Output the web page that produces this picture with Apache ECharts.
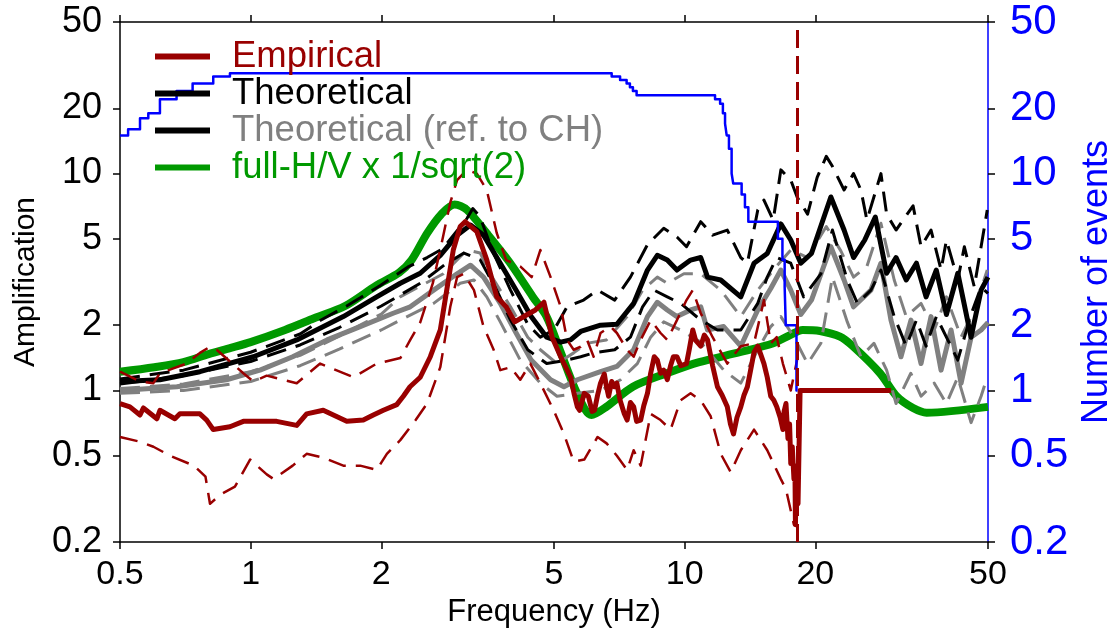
<!DOCTYPE html>
<html>
<head>
<meta charset="utf-8">
<script src="https://cdn.jsdelivr.net/npm/echarts@6/dist/echarts.min.js"></script>
<style>html,body{margin:0;padding:0;background:#fff}#c{width:1116px;height:639px}</style>
</head>
<body>
<div id="c"></div>
<script>
// ---- tick labels ----
const xTicks = [0.5, 1, 2, 5, 10, 20, 50];
const yTicks = [0.2, 0.5, 1, 2, 5, 10, 20, 50];
const cutoffFreq = 18.4;

// ---- series values: [frequency (Hz), value] ----
const empiricalMean = [[0.5,0.87],[0.527,0.84],[0.556,0.77],[0.566,0.83],[0.608,0.74],[0.618,0.81],[0.669,0.74],[0.687,0.78],[0.764,0.78],[0.792,0.73],[0.82,0.66],[0.896,0.68],[0.962,0.72],[1.148,0.72],[1.277,0.69],[1.346,0.78],[1.47,0.81],[1.665,0.72],[1.818,0.73],[1.917,0.77],[2.022,0.81],[2.171,0.86],[2.248,0.94],[2.329,1.04],[2.459,1.15],[2.594,1.43],[2.735,1.9],[2.83,2.9],[2.93,4.44],[3.04,5.7],[3.12,6.0],[3.32,5.4],[3.5,4.0],[3.69,2.7],[3.88,2.43],[4.06,2.07],[4.34,2.24],[4.53,2.35],[4.74,2.55],[4.95,1.76],[5.18,1.43],[5.46,1.15],[5.56,0.97],[5.66,0.84],[5.73,0.81],[5.87,0.97],[6.0,0.94],[6.12,0.8],[6.2,0.81],[6.3,0.95],[6.4,1.08],[6.53,1.19],[6.6,1.05],[6.68,0.94],[6.79,1.1],[6.89,1.04],[6.98,1.08],[7.1,0.9],[7.26,0.78],[7.37,0.73],[7.5,0.88],[7.63,0.84],[7.75,0.72],[7.92,0.73],[8.05,0.85],[8.21,0.97],[8.35,1.2],[8.51,1.43],[8.65,1.38],[8.8,1.2],[8.95,1.24],[9.12,1.12],[9.28,1.3],[9.42,1.43],[9.6,1.43],[9.8,1.3],[10.1,1.33],[10.25,1.55],[10.44,1.9],[10.6,1.7],[10.89,1.6],[11.1,1.8],[11.29,1.71],[11.6,1.3],[11.9,1.04],[12.2,0.95],[12.54,0.84],[12.75,0.7],[12.96,0.63],[13.2,0.75],[13.47,0.84],[13.7,0.95],[13.95,1.04],[14.2,1.25],[14.45,1.5],[14.74,1.6],[15.0,1.45],[15.23,1.33],[15.5,1.15],[15.79,0.94],[16.05,0.9],[16.3,0.84],[16.6,0.75],[16.84,0.66],[16.95,0.8],[17.12,0.87],[17.3,0.6],[17.45,0.7],[17.56,0.46],[17.7,0.55],[17.86,0.39],[17.95,0.45],[18.0,0.24],[18.08,0.4],[18.16,0.35],[18.25,0.3],[18.45,1.0],[29.9,1.0]];
const empiricalUpper = [[0.5,1.22],[0.556,1.1],[0.597,1.08],[0.618,1.2],[0.712,1.33],[0.764,1.49],[0.806,1.59],[0.835,1.54],[0.962,1.2],[1.014,1.1],[1.089,1.17],[1.277,1.08],[1.446,1.33],[1.725,1.15],[1.952,1.33],[2.212,1.41],[2.332,1.71],[2.459,2.06],[2.63,3.13],[2.775,5.11],[2.884,7.35],[2.99,9.33],[3.15,10.4],[3.32,10.0],[3.5,8.4],[3.69,5.32],[3.88,3.99],[4.18,3.73],[4.44,3.33],[4.65,4.44],[4.91,3.33],[5.18,2.43],[5.36,1.71],[5.55,1.54],[5.76,1.59],[5.96,1.71],[6.17,1.43],[6.4,1.84],[6.75,1.97],[6.98,1.84],[7.37,1.54],[7.63,1.43],[7.92,1.71],[8.35,2.11],[8.8,1.84],[9.12,1.71],[9.6,2.11],[10.1,2.61],[10.44,2.9],[10.89,2.27],[11.6,1.76],[12.54,1.33],[13.47,1.6],[14.45,1.65],[15.23,2.61],[15.79,1.65],[16.3,1.76],[16.84,1.33],[17.56,1.0],[18.16,1.38]];
const empiricalLower = [[0.5,0.61],[0.556,0.58],[0.597,0.55],[0.652,0.5],[0.74,0.45],[0.787,0.4],[0.806,0.3],[0.85,0.33],[0.92,0.36],[0.997,0.48],[1.089,0.41],[1.13,0.39],[1.25,0.45],[1.346,0.51],[1.47,0.49],[1.635,0.45],[1.788,0.45],[1.952,0.43],[2.06,0.51],[2.212,0.59],[2.4,0.73],[2.55,0.87],[2.735,1.28],[2.884,2.43],[2.99,3.33],[3.1,3.45],[3.27,2.9],[3.44,1.97],[3.63,1.54],[3.76,1.24],[3.97,1.28],[4.18,1.12],[4.41,1.33],[4.65,1.08],[4.99,0.81],[5.27,0.63],[5.55,0.47],[5.87,0.48],[6.3,0.61],[6.61,0.57],[6.98,0.5],[7.37,0.43],[7.63,0.53],[7.92,0.45],[8.35,0.78],[8.8,0.73],[9.28,0.66],[9.79,0.9],[10.32,0.97],[10.89,0.9],[11.48,0.76],[12.11,0.51],[12.77,0.42],[13.47,0.53],[14.45,0.66],[15.5,0.53],[16.66,0.39],[17.12,0.35],[17.86,0.24],[18.16,0.25]];
const theoretical = [[0.5,1.1],[0.618,1.12],[0.764,1.22],[1.014,1.43],[1.277,1.71],[1.635,2.19],[1.952,2.7],[2.212,3.12],[2.459,3.47],[2.735,4.2],[2.99,5.2],[3.21,5.79],[3.44,5.2],[3.76,3.86],[4.09,2.9],[4.43,2.19],[4.81,1.76],[5.18,1.67],[5.46,1.71],[5.76,1.87],[6.4,2.0],[6.98,2.02],[7.63,2.52],[8.21,3.59],[8.65,4.2],[9.12,3.99],[9.6,3.59],[10.32,3.99],[10.89,4.1],[11.29,3.33],[12.11,3.23],[13.47,2.7],[14.45,3.86],[15.5,4.28],[16.66,5.86],[17.56,4.94],[18.52,3.86],[19.6,4.28],[21.72,7.8],[23.3,5.49],[24.5,4.1],[26.0,4.94],[27.5,6.3],[29.2,3.47],[30.7,4.1],[32.4,3.23],[34.2,3.86],[36.0,2.7],[38.0,3.59],[40.1,2.24],[42.6,3.47],[45.7,1.76],[48.2,2.9],[50,3.33]];
const theoreticalUpper = [[0.5,1.13],[0.7,1.24],[1.0,1.5],[1.3,1.82],[1.446,2.1],[1.665,2.45],[1.99,3.05],[2.3,3.7],[2.55,4.1],[2.77,4.5],[3.0,5.5],[3.15,6.2],[3.25,6.9],[3.38,6.3],[3.6,4.44],[3.97,2.9],[4.35,2.02],[4.65,1.76],[5.0,1.9],[5.36,2.43],[5.85,2.61],[6.3,2.9],[6.9,2.61],[7.5,3.33],[8.21,4.7],[8.95,5.6],[9.6,5.1],[10.1,4.6],[10.89,6.0],[11.6,5.2],[12.54,5.49],[13.47,4.1],[13.95,3.86],[14.74,6.79],[15.23,7.55],[16.0,6.1],[16.66,10.4],[17.56,9.33],[18.16,7.8],[19.2,6.5],[20.2,9.6],[21.2,12.0],[21.9,10.8],[23.3,8.4],[24.5,10.0],[25.48,8.4],[26.3,6.1],[28.33,10.0],[29.2,6.5],[30.7,5.49],[33.6,7.1],[35.05,4.6],[36.96,5.49],[38.98,3.59],[40.1,4.94],[42.6,3.23],[44.1,4.6],[46.5,3.0],[49.8,6.79]];
const theoreticalLower = [[0.5,1.07],[0.7,1.17],[1.0,1.36],[1.3,1.62],[1.6,1.95],[2.0,2.45],[2.46,3.12],[2.8,3.8],[3.1,4.3],[3.38,4.0],[3.69,2.9],[3.97,2.11],[4.35,1.54],[4.81,1.33],[5.36,1.38],[5.76,1.43],[6.17,1.49],[6.9,1.54],[7.5,1.76],[8.0,2.43],[8.5,2.9],[9.12,2.7],[9.79,2.52],[10.89,2.11],[11.9,1.9],[13.47,1.9],[14.74,2.52],[15.5,3.33],[16.3,4.1],[17.56,3.86],[18.8,2.7],[20.6,3.45],[21.9,5.49],[23.7,3.23],[25.0,2.52],[26.87,2.9],[28.33,3.59],[30.4,2.19],[32.4,1.6],[34.2,2.11],[36.0,1.6],[38.0,2.19],[40.1,1.76],[42.6,1.38],[45.7,2.24],[48.2,3.0],[50,2.8]];
const refCH = [[0.5,1.0],[0.676,1.04],[0.88,1.12],[1.051,1.24],[1.25,1.43],[1.5,1.71],[1.788,1.97],[2.13,2.27],[2.332,2.43],[2.64,2.9],[2.99,3.45],[3.21,3.78],[3.44,3.33],[3.76,2.52],[4.09,1.84],[4.43,1.38],[4.91,1.12],[5.27,1.04],[5.66,1.12],[6.4,1.22],[6.98,1.29],[7.63,1.54],[8.21,2.19],[8.65,2.55],[9.12,2.35],[9.6,2.19],[10.32,2.35],[10.89,2.43],[11.29,1.9],[12.3,1.97],[13.47,1.6],[14.74,2.35],[15.79,2.95],[16.66,3.59],[17.56,2.9],[18.52,2.24],[19.6,2.61],[21.72,4.6],[23.3,3.23],[24.5,2.43],[26.87,2.9],[28.33,3.86],[29.88,2.11],[31.51,1.43],[33.23,2.11],[35.05,1.33],[36.96,2.19],[38.98,1.24],[41.1,1.9],[43.35,1.08],[45.71,1.76],[48.21,1.9],[50,2.06]];
const refCHUpper = [[0.5,1.02],[0.7,1.07],[1.0,1.22],[1.3,1.45],[1.6,1.78],[2.0,2.25],[2.21,2.7],[2.78,3.45],[3.15,4.44],[3.38,4.3],[3.6,3.33],[3.97,2.43],[4.35,1.76],[4.65,1.54],[5.08,1.33],[5.55,1.49],[5.96,1.65],[6.6,1.71],[7.37,2.19],[8.0,2.9],[8.65,3.33],[9.12,3.12],[9.96,3.45],[10.89,3.45],[12.11,2.9],[13.47,2.19],[14.74,2.9],[16.0,3.59],[17.56,4.44],[19.2,4.1],[21.2,5.7],[22.9,4.4],[24.5,3.33],[26.3,3.73],[28.33,5.9],[30.4,3.23],[32.4,2.19],[35.05,2.52],[37.6,1.9],[40.1,2.7],[43.35,1.76],[46.5,2.35],[49.8,3.59]];
const refCHLower = [[0.5,0.97],[0.7,1.0],[1.0,1.1],[1.3,1.3],[1.6,1.55],[2.0,1.9],[2.21,2.11],[2.64,2.52],[3.04,3.12],[3.27,3.23],[3.5,2.7],[3.76,2.07],[4.18,1.38],[4.65,1.08],[5.08,0.94],[5.66,0.97],[6.4,1.0],[7.12,1.12],[7.78,1.33],[8.35,1.76],[8.95,2.07],[9.79,1.9],[10.89,1.67],[12.3,1.24],[13.47,1.08],[14.74,1.54],[15.79,1.97],[16.66,2.19],[17.86,1.76],[19.2,1.33],[20.6,1.65],[21.9,3.33],[23.7,2.07],[25.48,1.43],[27.3,1.65],[29.2,1.24],[30.7,0.87],[33.2,1.2],[35.05,0.94],[37.6,1.08],[40.1,0.87],[42.6,1.15],[45.7,0.71],[48.2,0.94],[49.8,1.15]];
const fullHV = [[0.5,1.22],[0.6,1.28],[0.7,1.35],[0.8,1.47],[0.9,1.57],[1.0,1.67],[1.2,1.9],[1.4,2.15],[1.65,2.45],[1.95,3.05],[2.2,3.5],[2.35,4.0],[2.55,5.3],[2.75,6.5],[2.95,7.2],[3.15,6.8],[3.5,5.3],[3.95,3.9],[4.47,2.7],[4.8,2.2],[5.15,1.55],[5.65,0.97],[6.1,0.77],[6.6,0.84],[7.6,1.04],[9.1,1.2],[10.8,1.35],[13.4,1.5],[16.0,1.65],[17.5,1.8],[18.7,1.9],[20.5,1.88],[22.8,1.77],[24.4,1.6],[28.2,1.2],[30.8,0.94],[33.6,0.83],[36.1,0.79],[50,0.84]];
const numEvents = [[0.5,15],[0.522,16],[0.556,18],[0.581,19],[0.618,22],[0.675,24],[0.735,26],[0.82,28],[0.896,29],[6.79,28],[7.1,27],[7.35,26],[7.48,25],[7.6,24],[7.75,23],[11.75,22],[12.07,21],[12.25,19],[12.39,17],[12.5,15],[12.65,13],[12.83,10],[12.94,9],[13.53,8],[13.77,7],[14.02,6],[16.4,5],[16.8,4],[17.0,3],[17.1,2],[18.1,1],[18.2,1]];

// ---- helpers ----
const lg = v => Math.log10(v);
const toLog = arr => arr.map(p => [lg(p[0]), lg(p[1])]);
const fmt = v => String(parseFloat(Math.pow(10, v).toPrecision(2)));
const FONT = '"Liberation Sans", Arial, Helvetica, sans-serif';
const RED = '#990000', GREEN = '#009900', GRAY = '#808080', BLUE = '#0000ff';

function lineSeries(name, data, color, width, dashed, extra) {
  return Object.assign({
    name: name, type: 'line', data: toLog(data), showSymbol: false, symbol: 'none',
    xAxisIndex: 0, yAxisIndex: 0, animation: false, silent: true,
    lineStyle: { color: color, width: width, type: dashed ? dashed : 'solid', join: 'round' },
    itemStyle: { color: color }
  }, extra || {});
}

const xCommon = {
  type: 'value', min: lg(0.5), max: lg(50),
  splitLine: { show: false },
  axisLine: { onZero: false, lineStyle: { color: '#000', width: 1.5 } },
  axisTick: { customValues: xTicks.map(lg), length: 7, inside: false, lineStyle: { color: '#000', width: 1.5 } }
};
const yCommon = {
  type: 'value', min: lg(0.2), max: lg(50),
  splitLine: { show: false },
  axisTick: { customValues: yTicks.map(lg), length: 7, inside: false, lineStyle: { color: '#000', width: 1.5 } }
};

const option = {
  animation: false,
  backgroundColor: '#fff',
  grid: { left: 120, right: 128, top: 22, bottom: 97, containLabel: false, outerBoundsMode: 'none' },
  legend: {
    orient: 'vertical', left: 150, top: 33, icon: 'rect', itemWidth: 55, itemHeight: 6, itemGap: 0,
    selectedMode: false,
    textStyle: { fontSize: 36.5, lineHeight: 34, fontFamily: FONT, padding: [0, 0, 0, 17] },
    data: [
      { name: 'Empirical', textStyle: { color: RED } },
      { name: 'Theoretical', textStyle: { color: '#000' } },
      { name: 'Theoretical (ref. to CH)', textStyle: { color: GRAY }, itemStyle: { color: '#000' } },
      { name: 'full-H/V x 1/sqrt(2)', textStyle: { color: GREEN } }
    ]
  },
  xAxis: [
    Object.assign({}, xCommon, {
      position: 'bottom',
      axisLabel: { customValues: xTicks.map(lg), formatter: fmt, fontSize: 34, color: '#000', margin: 16, fontFamily: FONT },
      name: 'Frequency (Hz)', nameLocation: 'middle', nameGap: 55,
      nameTextStyle: { fontSize: 31, color: '#000', fontFamily: FONT }
    }),
    Object.assign({}, xCommon, { position: 'top', axisLabel: { show: false } })
  ],
  yAxis: [
    Object.assign({}, yCommon, {
      position: 'left',
      axisLine: { onZero: false, lineStyle: { color: '#000', width: 1.5 } },
      axisLabel: { customValues: yTicks.map(lg), formatter: fmt, fontSize: 36, color: '#000', margin: 18, fontFamily: FONT },
      name: 'Amplification', nameLocation: 'middle', nameGap: 77, nameRotate: 90,
      nameTextStyle: { fontSize: 30, color: '#000', fontFamily: FONT }
    }),
    Object.assign({}, yCommon, {
      position: 'right',
      axisLine: { onZero: false, lineStyle: { color: BLUE, width: 1.5 } },
      axisLabel: { customValues: yTicks.map(lg), formatter: fmt, fontSize: 42, color: BLUE, margin: 22, fontFamily: FONT },
      name: 'Number of events', nameLocation: 'middle', nameGap: 86, nameRotate: 90,
      nameTextStyle: { fontSize: 36, color: BLUE, fontFamily: FONT }
    })
  ],
  series: [
    lineSeries('full-H/V x 1/sqrt(2)', fullHV, GREEN, 8, null, { smooth: 0.3 }),
    lineSeries('chLow', refCHLower, GRAY, 3, [20, 10]),
    lineSeries('chHigh', refCHUpper, GRAY, 3, [20, 10]),
    lineSeries('Theoretical (ref. to CH)', refCH, GRAY, 5, null),
    lineSeries('thLow', theoreticalLower, '#000', 3, [20, 10]),
    lineSeries('thHigh', theoreticalUpper, '#000', 3, [20, 10]),
    lineSeries('Theoretical', theoretical, '#000', 5, null),
    lineSeries('empLow', empiricalLower, RED, 2.5, [18, 10]),
    lineSeries('empHigh', empiricalUpper, RED, 2.5, [18, 10]),
    lineSeries('Empirical', empiricalMean, RED, 5, null, {
      markLine: {
        silent: true, symbol: ['none', 'none'], animation: false,
        label: { show: false },
        lineStyle: { color: RED, width: 3, type: [18, 8] },
        data: [{ xAxis: lg(cutoffFreq) }]
      }
    }),
    lineSeries('events', numEvents, BLUE, 2.5, null, { yAxisIndex: 1, step: 'end' })
  ]
};

const chart = echarts.init(document.getElementById('c'), null, { renderer: 'canvas' });
chart.setOption(option);
</script>
</body>
</html>
